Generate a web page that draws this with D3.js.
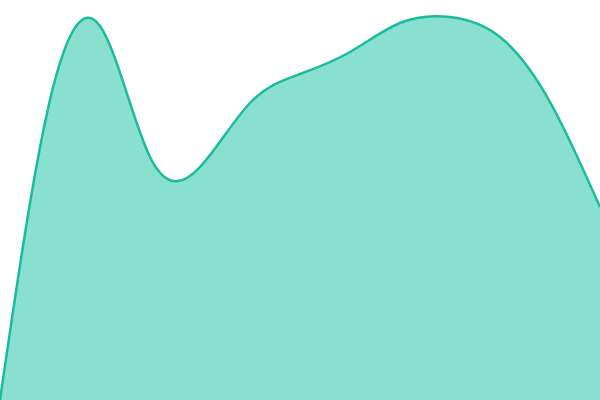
<!DOCTYPE html>
<html lang="en">
<head>
    <meta charset="UTF-8">
    <title>Area</title>
    <script src="https://cdn.jsdelivr.net/npm/d3@7"></script>
    <style>
        body { margin: 0; }
        svg { display: block; }
    </style>
</head>
<body>
<script>
    // heights every 50px (0..600, 0..400)
    var xs = [0, 50, 100, 150, 200, 250, 300, 350, 400, 450, 500, 550, 600];
    var values = [0, 300, 374, 243, 233, 297, 326, 348, 377, 383, 363, 298, 193];

    var w = 600, h = 400;
    var data = xs.map(function(x, i) { return {x: x, v: values[i]}; });

    var x = d3.scaleLinear().domain([0, 600]).range([0, w]);
    var y = d3.scaleLinear().domain([0, 400]).range([h, 0]);

    var svg = d3.select("body").append("svg")
        .attr("width", w)
        .attr("height", h);

    var area = d3.area()
        .curve(d3.curveNatural)
        .x(function(d) { return x(d.x); })
        .y0(h)
        .y1(function(d) { return y(d.v); });

    var line = d3.line()
        .curve(d3.curveNatural)
        .x(function(d) { return x(d.x); })
        .y(function(d) { return y(d.v); });

    svg.append("path")
        .datum(data)
        .attr("d", area)
        .attr("fill", "#89e0cf");

    svg.append("path")
        .datum(data)
        .attr("d", line)
        .attr("fill", "none")
        .attr("stroke", "#1abc9c")
        .attr("stroke-width", 2.5);
</script>
</body>
</html>
